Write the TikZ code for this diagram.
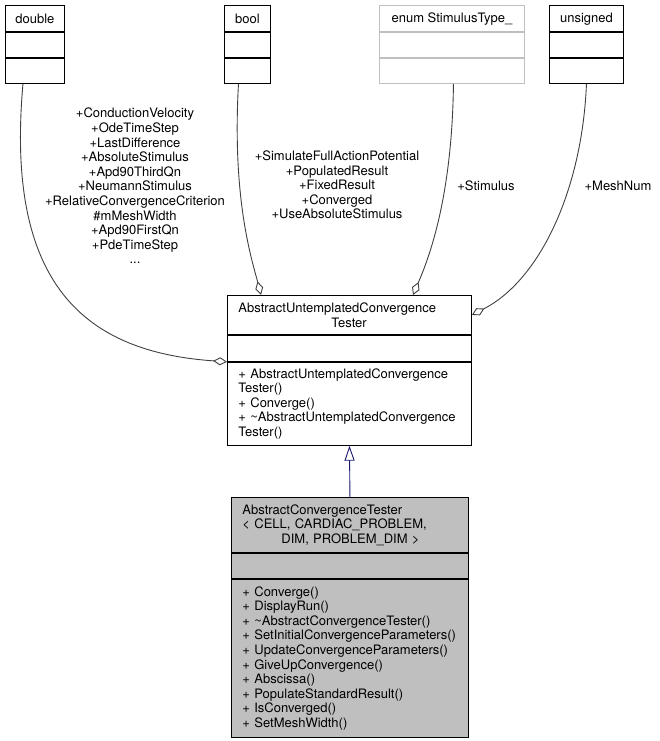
\documentclass[tikz,border=0pt]{standalone}
\usepackage{fontspec}
\setmainfont{TeX Gyre Heros}
\usetikzlibrary{arrows,arrows.meta,positioning,calc}
\definecolor{egray}{HTML}{404040}
\definecolor{bgray}{HTML}{BFBFBF}
\definecolor{mnavy}{HTML}{191970}
\tikzstyle{l1}=[line width=0.9]
\tikzstyle{txt}=[font=\fontsize{13}{14.6}\selectfont]
\tikzstyle{cls}=[rectangle, draw=black, l1, txt, anchor=north west, inner sep=0pt, align=center]
\tikzstyle{mem}=[cls, align=left, inner xsep=11pt]
\tikzstyle{lbl}=[txt, align=center, inner sep=0pt]
\tikzstyle{agg}=[egray, l1, -{Diamond[open, length=14pt, width=8pt]}]
\tikzstyle{inh}=[mnavy, l1, -{Triangle[open, length=15pt, width=10pt]}]

\begin{document}
\begin{tikzpicture}[x=1pt, y=-1pt]
    \useasboundingbox (0,0) rectangle (660,741);
    % types
    \node[cls, minimum width=59, minimum height=26.5] at (5,5) (dblA) {double};
    \node[cls, minimum width=59, minimum height=25] at (dblA.south west) (dblB) {};
    \node[cls, minimum width=59, minimum height=25] at (dblB.south west) (dblC) {};
    \node[cls, minimum width=46, minimum height=26.5] at (224,5) (boolA) {bool};
    \node[cls, minimum width=46, minimum height=25] at (boolA.south west) (boolB) {};
    \node[cls, minimum width=46, minimum height=25] at (boolB.south west) (boolC) {};
    \node[cls, draw=bgray, minimum width=145, minimum height=26.5] at (379,5) (enumA) {enum StimulusType\_};
    \node[cls, draw=bgray, minimum width=145, minimum height=25] at (enumA.south west) (enumB) {};
    \node[cls, draw=bgray, minimum width=145, minimum height=25] at (enumB.south west) (enumC) {};
    \node[cls, minimum width=74, minimum height=26.5] at (549,5) (unsA) {unsigned};
    \node[cls, minimum width=74, minimum height=25] at (unsA.south west) (unsB) {};
    \node[cls, minimum width=74, minimum height=25] at (unsB.south west) (unsC) {};

    % base class
    \node[mem, text width=222, minimum height=39] at (227,295) (autA)
        {AbstractUntemplatedConvergence\\\hspace*{93pt}Tester};
    \node[cls, minimum width=244, minimum height=26] at (autA.south west) (autB) {};
    \node[mem, text width=222, minimum height=83] at (autB.south west) (autC)
        {+ AbstractUntemplatedConvergence\\Tester()\\+ Converge()\\+ \textasciitilde AbstractUntemplatedConvergence\\Tester()};

    % derived class
    \node[mem, fill=bgray, text width=215, minimum height=55] at (231,497) (actA)
        {AbstractConvergenceTester\\< CELL, CARDIAC\_PROBLEM,\\\hspace*{39pt}DIM, PROBLEM\_DIM >};
    \node[cls, fill=bgray, minimum width=237, minimum height=25] at (actA.south west) (actB) {};
    \node[mem, fill=bgray, text width=215, minimum height=158] at (actB.south west) (actC)
        {+ Converge()\\+ DisplayRun()\\+ \textasciitilde AbstractConvergenceTester()\\+ SetInitialConvergenceParameters()\\+ UpdateConvergenceParameters()\\+ GiveUpConvergence()\\+ Abscissa()\\+ PopulateStandardResult()\\+ IsConverged()\\+ SetMeshWidth()};

    % edge labels
    \node[lbl] at (135,186) (dblL) {+ConductionVelocity\\+OdeTimeStep\\+LastDifference\\+AbsoluteStimulus\\+Apd90ThirdQn\\+NeumannStimulus\\+RelativeConvergenceCriterion\\\#mMeshWidth\\+Apd90FirstQn\\+PdeTimeStep\\...};
    \node[lbl] at (337,185) (boolL) {+SimulateFullActionPotential\\+PopulatedResult\\+FixedResult\\+Converged\\+UseAbsoluteStimulus};
    \node[lbl] at (486,186) (enumL) {+Stimulus};
    \node[lbl] at (618,186) (unsL) {+MeshNum};

    \draw[agg] ($(dblC.south)+(-12,0)$) .. controls (5,285) and (85,352) .. (autB.south west);
    \draw[agg] ($(boolC.south)+(-9,0)$) .. controls (232,200) and (252,260) .. ($(autA.north west)+(34,0)$);
    \draw[agg] ($(enumC.south)+(1.5,0)$) .. controls (452,200) and (428,260) .. ($(autA.north west)+(186,0)$);
    \draw[agg] (unsC.south) .. controls (582,190) and (540,280) .. (autA.east);
    \draw[inh] (actA.north) -- (autC.south);
\end{tikzpicture}
\end{document}
